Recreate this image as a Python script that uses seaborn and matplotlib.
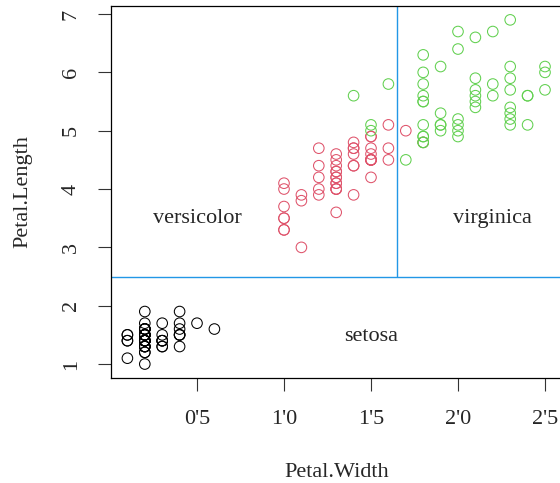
import matplotlib
matplotlib.use("Agg")
import matplotlib.pyplot as plt
import seaborn as sns
import pandas as pd
from matplotlib.ticker import FuncFormatter

# iris petals
setosa_width = [0.2, 0.2, 0.2, 0.2, 0.2, 0.4, 0.3, 0.2, 0.2, 0.1, 0.2, 0.2, 0.1, 0.1, 0.2, 0.4, 0.4,
                0.3, 0.3, 0.3, 0.2, 0.4, 0.2, 0.5, 0.2, 0.2, 0.4, 0.2, 0.2, 0.2, 0.2, 0.4, 0.1, 0.2,
                0.2, 0.2, 0.2, 0.1, 0.2, 0.2, 0.3, 0.3, 0.2, 0.6, 0.4, 0.3, 0.2, 0.2, 0.2, 0.2]
setosa_length = [1.4, 1.4, 1.3, 1.5, 1.4, 1.7, 1.4, 1.5, 1.4, 1.5, 1.5, 1.6, 1.4, 1.1, 1.2, 1.5, 1.3,
                 1.4, 1.7, 1.5, 1.7, 1.5, 1.0, 1.7, 1.9, 1.6, 1.6, 1.5, 1.4, 1.6, 1.6, 1.5, 1.5, 1.4,
                 1.5, 1.2, 1.3, 1.4, 1.3, 1.5, 1.3, 1.3, 1.3, 1.6, 1.9, 1.4, 1.6, 1.4, 1.5, 1.4]
versicolor_width = [1.4, 1.5, 1.5, 1.3, 1.5, 1.3, 1.6, 1.0, 1.3, 1.4, 1.0, 1.5, 1.0, 1.4, 1.3, 1.4, 1.5,
                    1.0, 1.5, 1.1, 1.8, 1.3, 1.5, 1.2, 1.3, 1.4, 1.4, 1.7, 1.5, 1.0, 1.1, 1.0, 1.2, 1.6,
                    1.5, 1.6, 1.5, 1.3, 1.3, 1.3, 1.2, 1.4, 1.2, 1.0, 1.3, 1.2, 1.3, 1.3, 1.1, 1.3]
versicolor_length = [4.7, 4.5, 4.9, 4.0, 4.6, 4.5, 4.7, 3.3, 4.6, 3.9, 3.5, 4.2, 4.0, 4.7, 3.6, 4.4, 4.5,
                     4.1, 4.5, 3.9, 4.8, 4.0, 4.9, 4.7, 4.3, 4.4, 4.8, 5.0, 4.5, 3.5, 3.8, 3.7, 3.9, 5.1,
                     4.5, 4.5, 4.7, 4.4, 4.1, 4.0, 4.4, 4.6, 4.0, 3.3, 4.2, 4.2, 4.2, 4.3, 3.0, 4.1]
virginica_width = [2.5, 1.9, 2.1, 1.8, 2.2, 2.1, 1.7, 1.8, 1.8, 2.5, 2.0, 1.9, 2.1, 2.0, 2.4, 2.3, 1.8,
                   2.2, 2.3, 1.5, 2.3, 2.0, 2.0, 1.8, 2.1, 1.8, 1.8, 1.8, 2.1, 1.6, 1.9, 2.0, 2.2, 1.5,
                   1.4, 2.3, 2.4, 1.8, 1.8, 2.1, 2.4, 2.3, 1.9, 2.3, 2.5, 2.3, 1.9, 2.0, 2.3, 1.8]
virginica_length = [6.0, 5.1, 5.9, 5.6, 5.8, 6.6, 4.5, 6.3, 5.8, 6.1, 5.1, 5.3, 5.5, 5.0, 5.1, 5.3, 5.5,
                    6.7, 6.9, 5.0, 5.7, 4.9, 6.7, 4.9, 5.7, 6.0, 4.8, 4.9, 5.6, 5.8, 6.1, 6.4, 5.6, 5.1,
                    5.6, 6.1, 5.6, 5.5, 4.8, 5.4, 5.6, 5.1, 5.1, 5.9, 5.7, 5.2, 5.0, 5.2, 5.4, 5.1]

species = ["setosa", "versicolor", "virginica"]
colors = ["black", "#DF536B", "#61D04F"]

# decision boundaries
split_length = 2.5
split_width = 1.65

# region labels (x, y)
label_pos = {"versicolor": (0.5, 3.5), "virginica": (2.2, 3.5), "setosa": (1.5, 1.47)}

df = pd.DataFrame({
    "Petal.Width": setosa_width + versicolor_width + virginica_width,
    "Petal.Length": setosa_length + versicolor_length + virginica_length,
    "Species": ["setosa"] * 50 + ["versicolor"] * 50 + ["virginica"] * 50,
})

sns.set_theme(style="white")
plt.rcParams["font.family"] = ["Liberation Serif", "DejaVu Serif"]

fig = plt.figure(figsize=(5.6, 4.83), dpi=100)
ax = fig.add_axes([110.7 / 560, 105.2 / 483, 451 / 560, 371.7 / 483])

sns.scatterplot(data=df, x="Petal.Width", y="Petal.Length", hue="Species",
                palette=dict(zip(species, colors)), s=58, linewidth=0.75,
                legend=False, ax=ax)
# open circles like R's pch=1
coll = ax.collections[0]
fc = coll.get_facecolors()
coll.set_edgecolors(fc)
coll.set_facecolors("none")

ax.set_xlim(0.004, 2.596)
ax.set_ylim(0.764, 7.136)

ax.axhline(split_length, color="#2297E6", lw=1)
ax.vlines(split_width, split_length, 7.136, color="#2297E6", lw=1)

for name, (x, y) in label_pos.items():
    ax.text(x, y, name, ha="center", va="center", fontsize=16)

ax.set_xticks([0.5, 1.0, 1.5, 2.0, 2.5])
ax.set_yticks([1, 2, 3, 4, 5, 6, 7])
ax.xaxis.set_major_formatter(FuncFormatter(lambda v, p: f"{v:.1f}".replace(".", "'")))
ax.yaxis.set_major_formatter(FuncFormatter(lambda v, p: f"{v:.0f}"))
ax.tick_params(axis="both", direction="out", length=9.4, width=0.8, color="#333333",
               labelsize=16, left=True, bottom=True)
ax.tick_params(axis="x", pad=14)
ax.tick_params(axis="y", pad=12)
for lab in ax.get_yticklabels():
    lab.set_rotation(90)
    lab.set_va("center")

for sp in ax.spines.values():
    sp.set_color("black")
    sp.set_linewidth(0.9)

ax.set_xlabel("Petal.Width", fontsize=16, labelpad=24)
ax.set_ylabel("Petal.Length", fontsize=16, labelpad=21)

fig.savefig("out.png", dpi=100)
